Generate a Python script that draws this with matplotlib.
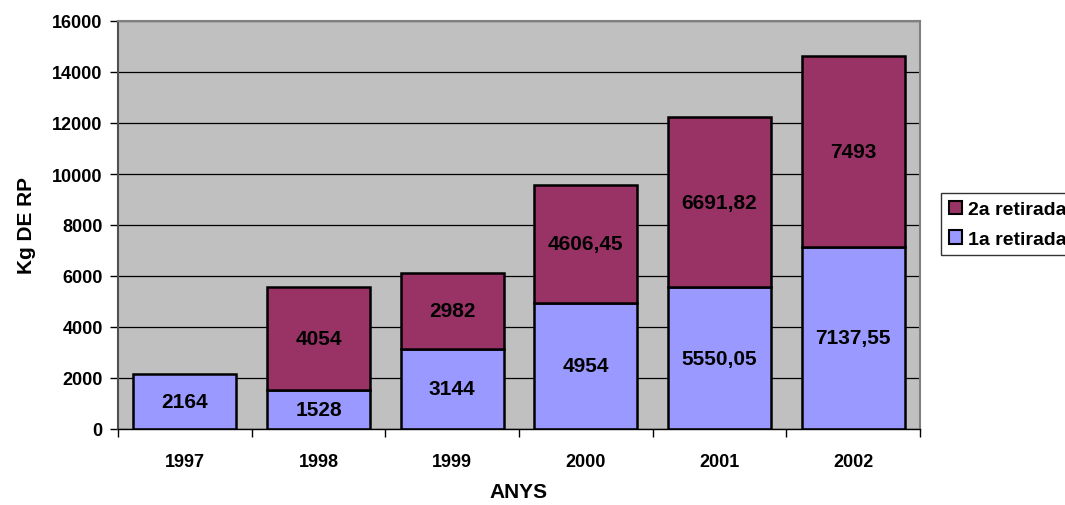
import numpy as np
import matplotlib.pyplot as plt
from matplotlib.patches import Patch
from matplotlib.ticker import FixedLocator

plt.rcParams['font.family'] = ['Liberation Sans', 'DejaVu Sans']
plt.rcParams['font.weight'] = 'bold'

# Data
years = ['1997', '1998', '1999', '2000', '2001', '2002']
first = [2164, 1528, 3144, 4954, 5550.05, 7137.55]
second = [0, 4054, 2982, 4606.45, 6691.82, 7493]
first_labels = ['2164', '1528', '3144', '4954', '5550,05', '7137,55']
second_labels = ['', '4054', '2982', '4606,45', '6691,82', '7493']

c_first = '#9999FF'
c_second = '#993366'

fig = plt.figure(figsize=(10.65, 5.06), dpi=100)
ax = fig.add_axes([118/1065, 76/506, 802/1065, 408/506])
ax.set_facecolor('#C0C0C0')

x = np.arange(len(years))
w = 0.77
ax.set_axisbelow(True)
ax.yaxis.grid(True, color='black', lw=0.9)

ax.bar(x, first, w, color=c_first, edgecolor='black', lw=1.8)
has2 = [i for i in range(len(years)) if second[i] > 0]
ax.bar(x[has2], [second[i] for i in has2], w, bottom=[first[i] for i in has2],
       color=c_second, edgecolor='black', lw=1.8)

for i in range(len(years)):
    ax.text(x[i], first[i] / 2, first_labels[i], ha='center', va='center',
            fontsize=15, fontweight='bold')
    if second[i] > 0:
        ax.text(x[i], first[i] + second[i] / 2, second_labels[i], ha='center',
                va='center', fontsize=15, fontweight='bold')

ax.set_xlim(-0.5, len(years) - 0.5)
ax.set_ylim(0, 16000)
ax.set_yticks(np.arange(0, 16001, 2000))
ax.tick_params(axis='y', labelsize=13, direction='out', length=6, width=1, pad=5)
ax.set_xticks(x)
ax.set_xticklabels(years, fontsize=13, fontweight='bold')
ax.xaxis.set_minor_locator(FixedLocator(np.arange(-0.5, len(years), 1.0)))
ax.tick_params(axis='x', which='major', length=0, pad=17)
ax.tick_params(axis='x', which='minor', length=6, width=1, direction='out')

for s in ['top', 'right']:
    ax.spines[s].set_color('#808080')
    ax.spines[s].set_linewidth(1.5)
ax.spines['left'].set_color('#505050')
ax.spines['left'].set_linewidth(1.5)
ax.spines['bottom'].set_color('black')
ax.spines['bottom'].set_linewidth(1)

ax.set_xlabel('ANYS', fontsize=15, fontweight='bold', labelpad=9)
ax.set_ylabel('Kg DE RP', fontsize=15, fontweight='bold', labelpad=12)

handles = [Patch(facecolor=c_second, edgecolor='black', lw=1.5, label='2a retirada'),
           Patch(facecolor=c_first, edgecolor='black', lw=1.5, label='1a retirada')]
leg = fig.legend(handles=handles, loc='upper left',
                 bbox_to_anchor=(941/1065, (506-194)/506),
                 fontsize=14, frameon=True, fancybox=False, edgecolor='black',
                 handlelength=0.7, handleheight=0.7, handletextpad=0.3,
                 borderpad=0.4, labelspacing=0.6, borderaxespad=0)
leg.get_frame().set_linewidth(1)
for t in leg.get_texts():
    t.set_fontweight('bold')

fig.savefig('out.png', dpi=100)
